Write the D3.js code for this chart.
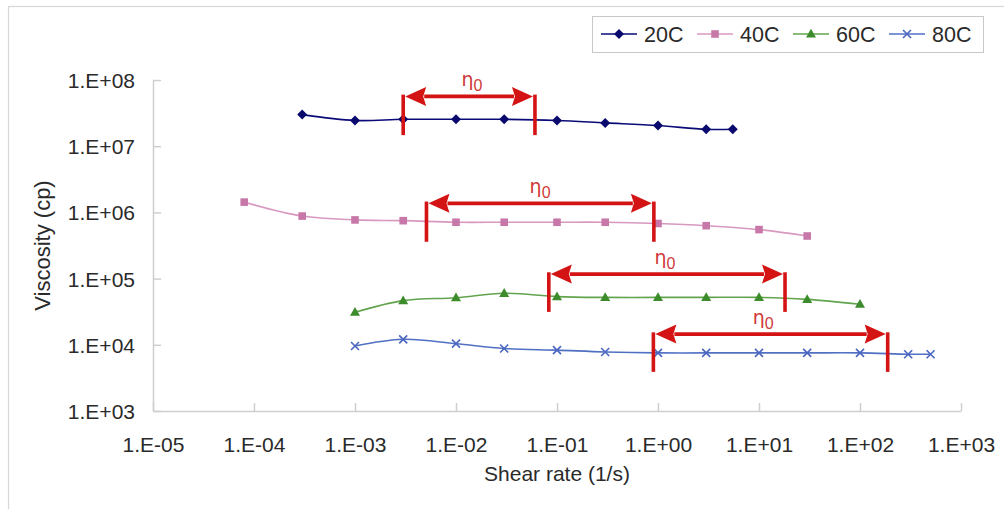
<!DOCTYPE html>
<html>
<head>
<meta charset="utf-8">
<script src="https://cdn.jsdelivr.net/npm/d3@7"></script>
<style>
  html, body { margin: 0; padding: 0; background: #ffffff; }
  svg { display: block; font-family: "Liberation Sans", Arial, sans-serif; }
</style>
</head>
<body>
<svg id="chart" width="1004" height="509"></svg>
<script>
// Shear rate (1/s) and viscosity (cp) readings per temperature
const seriesNames = ["20C", "40C", "60C", "80C"];

const rate20 = [3e-4, 1e-3, 3e-3, 1e-2, 3e-2, 0.1, 0.3, 1, 3, 5.5];
const visc20 = [3.0e7, 2.45e7, 2.55e7, 2.55e7, 2.55e7, 2.45e7, 2.25e7, 2.05e7, 1.8e7, 1.8e7];

const rate40 = [8e-5, 3e-4, 1e-3, 3e-3, 1e-2, 3e-2, 0.1, 0.3, 1, 3, 10, 30];
const visc40 = [1.43e6, 8.8e5, 7.7e5, 7.5e5, 7.1e5, 7.1e5, 7.1e5, 7.1e5, 6.8e5, 6.3e5, 5.5e5, 4.4e5];

const rate60 = [1e-3, 3e-3, 1e-2, 3e-2, 0.1, 0.3, 1, 3, 10, 30, 100];
const visc60 = [3.1e4, 4.65e4, 5.15e4, 6.0e4, 5.35e4, 5.2e4, 5.2e4, 5.2e4, 5.2e4, 4.85e4, 4.1e4];

const rate80 = [1e-3, 3e-3, 1e-2, 3e-2, 0.1, 0.3, 1, 3, 10, 30, 100, 300, 500];
const visc80 = [9.6e3, 1.21e4, 1.04e4, 8.8e3, 8.3e3, 7.8e3, 7.55e3, 7.55e3, 7.55e3, 7.55e3, 7.55e3, 7.2e3, 7.2e3];

// Zero-shear (Newtonian plateau) ranges marked with η0 arrows
const plateauFrom   = [3.0e-3, 5.1e-3, 0.083, 0.90];
const plateauTo     = [0.0605, 0.91, 18.1, 188];
const plateauLevel  = [5.65e7, 1.37e6, 1.17e5, 1.45e4];
const plateauFloor  = [1.47e7, 3.6e5, 3.14e4, 3.9e3];
const plateauLabelX = [0.0144, 0.068, 1.17, 11.0];

const xTickValues = [1e-5, 1e-4, 1e-3, 1e-2, 1e-1, 1e0, 1e1, 1e2, 1e3];
const xTickLabels = ["1.E-05", "1.E-04", "1.E-03", "1.E-02", "1.E-01", "1.E+00", "1.E+01", "1.E+02", "1.E+03"];
const yTickValues = [1e3, 1e4, 1e5, 1e6, 1e7, 1e8];
const yTickLabels = ["1.E+03", "1.E+04", "1.E+05", "1.E+06", "1.E+07", "1.E+08"];

const rates = [rate20, rate40, rate60, rate80];
const viscs = [visc20, visc40, visc60, visc80];
const lineColors   = ["#0b0b78", "#d898c0", "#62a44e", "#5070c4"];
const markerColors = ["#0a0a6e", "#c878a8", "#3c8c2c", "#4a66c0"];
const markerKinds  = ["diamond", "square", "triangle", "cross"];

const svg = d3.select("#chart");
const plotLeft = 153, plotRight = 961, plotTop = 80, plotBottom = 411;

const x = d3.scaleLog().domain([1e-5, 1e3]).range([plotLeft, plotRight]);
const y = d3.scaleLog().domain([1e3, 1e8]).range([plotBottom, plotTop]);

// outer chart frame
svg.append("rect")
  .attr("x", 8.5).attr("y", 6.5).attr("width", 1010).attr("height", 520)
  .attr("fill", "#ffffff").attr("stroke", "#d6d6d6").attr("stroke-width", 1.2);

const axisColor = "#cfcfcf";
const textColor = "#2a2a2a";

// x axis
const xAxis = svg.append("g")
  .attr("transform", `translate(0,${plotBottom})`)
  .call(d3.axisBottom(x).tickValues(xTickValues)
    .tickFormat((d, i) => xTickLabels[i])
    .tickSizeInner(-8).tickSizeOuter(0));
xAxis.select(".domain").attr("stroke", axisColor).attr("stroke-width", 1.5);
xAxis.selectAll(".tick line").attr("stroke", axisColor).attr("stroke-width", 1.5);
xAxis.selectAll(".tick text")
  .attr("y", 41).attr("dy", 0)
  .attr("fill", textColor).style("font-size", "21px");

// y axis
const yAxis = svg.append("g")
  .attr("transform", `translate(${plotLeft},0)`)
  .call(d3.axisLeft(y).tickValues(yTickValues)
    .tickFormat((d, i) => yTickLabels[i])
    .tickSizeInner(-8).tickSizeOuter(0).tickPadding(18));
yAxis.select(".domain").attr("stroke", axisColor).attr("stroke-width", 1.5);
yAxis.selectAll(".tick line").attr("stroke", axisColor).attr("stroke-width", 1.5);
yAxis.selectAll(".tick text")
  .attr("dy", "0.36em")
  .attr("fill", textColor).style("font-size", "21px");

// axis titles
svg.append("text")
  .attr("x", (plotLeft + plotRight) / 2).attr("y", 481)
  .attr("text-anchor", "middle").attr("fill", textColor)
  .style("font-size", "21px").text("Shear rate (1/s)");
svg.append("text")
  .attr("transform", `translate(50,${(plotTop + plotBottom) / 2}) rotate(-90)`)
  .attr("text-anchor", "middle").attr("fill", textColor)
  .style("font-size", "22px").text("Viscosity (cp)");

// marker shapes
function markerPath(kind) {
  switch (kind) {
    case "diamond": return "M0,-5L5,0L0,5L-5,0Z";
    case "square": return "M-3.8,-3.8H3.8V3.8H-3.8Z";
    case "triangle": return "M0,-5.2L5,3.6H-5Z";
    case "cross": return "M-4,-4L4,4M-4,4L4,-4";
  }
}
function drawMarker(g, kind, color) {
  const p = g.append("path").attr("d", markerPath(kind));
  if (kind === "cross") p.attr("fill", "none").attr("stroke", color).attr("stroke-width", 1.6);
  else p.attr("fill", color);
}

// series lines and markers
const line = d3.line()
  .x(d => x(d[0])).y(d => y(d[1]))
  .curve(d3.curveCatmullRom.alpha(0.5));

seriesNames.forEach((name, s) => {
  const pts = rates[s].map((r, i) => [r, viscs[s][i]]);
  const g = svg.append("g");
  g.append("path").datum(pts)
    .attr("d", line).attr("fill", "none")
    .attr("stroke", lineColors[s]).attr("stroke-width", 1.6);
  g.selectAll("g.pt").data(pts).join("g")
    .attr("class", "pt")
    .attr("transform", d => `translate(${x(d[0])},${y(d[1])})`)
    .each(function () { drawMarker(d3.select(this), markerKinds[s], markerColors[s]); });
});

// η0 plateau arrows
const red = "#d41414";
const headLen = 21, headHalf = 9.5, barW = 3.6;
const ann = svg.append("g");
plateauFrom.forEach((x0v, i) => {
  const x0 = x(x0v), x1 = x(plateauTo[i]);
  const yl = y(plateauLevel[i]), yb = y(plateauFloor[i]);
  const g = ann.append("g");
  // end bars
  [x0, x1].forEach(xx => {
    g.append("line")
      .attr("x1", xx).attr("x2", xx)
      .attr("y1", yl - barW / 2).attr("y2", yb)
      .attr("stroke", red).attr("stroke-width", barW);
  });
  // shaft
  g.append("line")
    .attr("x1", x0 + headLen).attr("x2", x1 - headLen)
    .attr("y1", yl).attr("y2", yl)
    .attr("stroke", red).attr("stroke-width", barW);
  // heads
  g.append("path")
    .attr("d", `M${x0 + 2},${yl}L${x0 + 2 + headLen},${yl - headHalf}L${x0 + 2 + headLen - 3},${yl}L${x0 + 2 + headLen},${yl + headHalf}Z`)
    .attr("fill", red);
  g.append("path")
    .attr("d", `M${x1 - 2},${yl}L${x1 - 2 - headLen},${yl - headHalf}L${x1 - 2 - headLen + 3},${yl}L${x1 - 2 - headLen},${yl + headHalf}Z`)
    .attr("fill", red);
  // label
  const t = g.append("text")
    .attr("x", x(plateauLabelX[i])).attr("y", yl - 10)
    .attr("text-anchor", "middle").attr("fill", "#cf3a3a")
    .style("font-family", "'DejaVu Sans', sans-serif")
    .style("font-size", "19px");
  t.append("tspan").text("η");
  t.append("tspan").attr("dy", 5).style("font-size", "16px").style("font-family", "'Liberation Sans', Arial, sans-serif").text("0");
});

// legend
const legend = svg.append("g");
legend.append("rect")
  .attr("x", 592.5).attr("y", 16.5).attr("width", 391).attr("height", 36)
  .attr("fill", "#ffffff").attr("stroke", "#c8c8c8").attr("stroke-width", 1);
const legendX = [601, 697, 793, 889];
seriesNames.forEach((name, s) => {
  const lx = legendX[s];
  const g = legend.append("g");
  g.append("line")
    .attr("x1", lx).attr("x2", lx + 36).attr("y1", 34).attr("y2", 34)
    .attr("stroke", lineColors[s]).attr("stroke-width", 1.6);
  const m = g.append("g").attr("transform", `translate(${lx + 18},34)`);
  drawMarker(m, markerKinds[s], markerColors[s]);
  g.append("text")
    .attr("x", lx + 43).attr("y", 42)
    .attr("fill", textColor).style("font-size", "21.5px")
    .text(name);
});
</script>
</body>
</html>
